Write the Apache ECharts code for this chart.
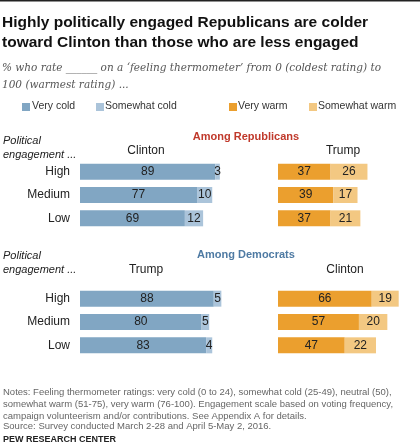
<!DOCTYPE html>
<html><head><meta charset="utf-8">
<script src="https://cdn.jsdelivr.net/npm/echarts@6/dist/echarts.min.js"></script>
<style>html,body{margin:0;padding:0;background:#fff}#c{width:420px;height:444px}</style>
</head><body><div id="c"></div>
<script>
const levels = ['High','Medium','Low'];
const repClintonVeryCold = [89,77,69];
const repClintonSomewhatCold = [3,10,12];
const repTrumpVeryWarm = [37,39,37];
const repTrumpSomewhatWarm = [26,17,21];
const demTrumpVeryCold = [88,80,83];
const demTrumpSomewhatCold = [5,5,4];
const demClintonVeryWarm = [66,57,47];
const demClintonSomewhatWarm = [19,20,22];

const C = {vc:'#81A6C3', sc:'#ABC4DA', vw:'#EB9F2E', sw:'#F3C882'};
const grids = [
  {left:80, top:160, width:152, height:70},
  {left:278, top:160, width:155, height:70},
  {left:80, top:287, width:152, height:70},
  {left:278, top:287, width:155, height:70}
];
const xAxis = grids.map((g,i)=>({gridIndex:i,type:'value',min:0,max:100,show:false}));
const yAxis = grids.map((g,i)=>({gridIndex:i,type:'category',data:levels,inverse:true,
  axisLine:{show:false},axisTick:{show:false},
  axisLabel:{show:i%2===0,color:'#222',fontSize:12,fontFamily:'Arial, Liberation Sans',margin:10}}));
function ser(i,data,color){
  return {type:'bar',xAxisIndex:i,yAxisIndex:i,stack:'s'+i,data:data,barWidth:16,
    itemStyle:{color:color},
    label:{show:true,position:'inside',color:'#222',fontSize:12,fontFamily:'Arial, Liberation Sans'}};
}
const series = [
  ser(0,repClintonVeryCold,C.vc), ser(0,repClintonSomewhatCold,C.sc),
  ser(1,repTrumpVeryWarm,C.vw), ser(1,repTrumpSomewhatWarm,C.sw),
  ser(2,demTrumpVeryCold,C.vc), ser(2,demTrumpSomewhatCold,C.sc),
  ser(3,demClintonVeryWarm,C.vw), ser(3,demClintonSomewhatWarm,C.sw)
];
const F = 'Arial, Liberation Sans';
function t(x,y,text,o){return {type:'text',x:x,y:y,style:Object.assign({text:text,fill:'#222',font:'12px '+F},o||{})};}
const notes = 'Notes: Feeling thermometer ratings: very cold (0 to 24), somewhat cold (25-49), neutral (50),\nsomewhat warm (51-75), very warm (76-100). Engagement scale based on voting frequency,\ncampaign volunteerism and/or contributions. See Appendix A for details.';
const graphic = [
  {type:'rect',shape:{x:0,y:0,width:420,height:1.5},style:{fill:'#222'}},
  t(2,13,'Highly politically engaged Republicans are colder\ntoward Clinton than those who are less engaged',{font:'bold 15.5px '+F,fill:'#111',lineHeight:20}),
  t(2,60,'% who rate ______ on a \u2018feeling thermometer\u2019 from 0 (coldest rating) to\n100 (warmest rating) ...',{font:'italic 10.5px "DejaVu Serif", serif',fill:'#555',lineHeight:17}),
  {type:'rect',shape:{x:22,y:103,width:8,height:8},style:{fill:C.vc}},
  t(32,101,'Very cold',{font:'10.5px '+F,fill:'#333'}),
  {type:'rect',shape:{x:96,y:103,width:8,height:8},style:{fill:C.sc}},
  t(105,101,'Somewhat cold',{font:'10.5px '+F,fill:'#333'}),
  {type:'rect',shape:{x:229,y:103,width:8,height:8},style:{fill:C.vw}},
  t(238,101,'Very warm',{font:'10.5px '+F,fill:'#333'}),
  {type:'rect',shape:{x:309,y:103,width:8,height:8},style:{fill:C.sw}},
  t(318,101,'Somewhat warm',{font:'10.5px '+F,fill:'#333'}),
  t(246,131,'Among Republicans',{font:'bold 11px '+F,fill:'#C0392B',align:'center'}),
  t(3,134,'Political\nengagement ...',{font:'italic 11px '+F,lineHeight:14}),
  t(146,145,'Clinton',{align:'center'}),
  t(343,145,'Trump',{align:'center'}),
  t(246,249,'Among Democrats',{font:'bold 11px '+F,fill:'#4E7AA3',align:'center'}),
  t(3,249,'Political\nengagement ...',{font:'italic 11px '+F,lineHeight:14}),
  t(146,264,'Trump',{align:'center'}),
  t(345,264,'Clinton',{align:'center'}),
  t(3,386,notes,{font:'9.5px '+F,fill:'#666',lineHeight:12}),
  t(3,421,'Source: Survey conducted March 2-28 and April 5-May 2, 2016.',{font:'9.5px '+F,fill:'#666'}),
  t(3,435,'PEW RESEARCH CENTER',{font:'bold 9px '+F,fill:'#222'})
];
const chart = echarts.init(document.getElementById('c'));
chart.setOption({animation:false,grid:grids,xAxis:xAxis,yAxis:yAxis,series:series,graphic:graphic});
</script></body></html>
